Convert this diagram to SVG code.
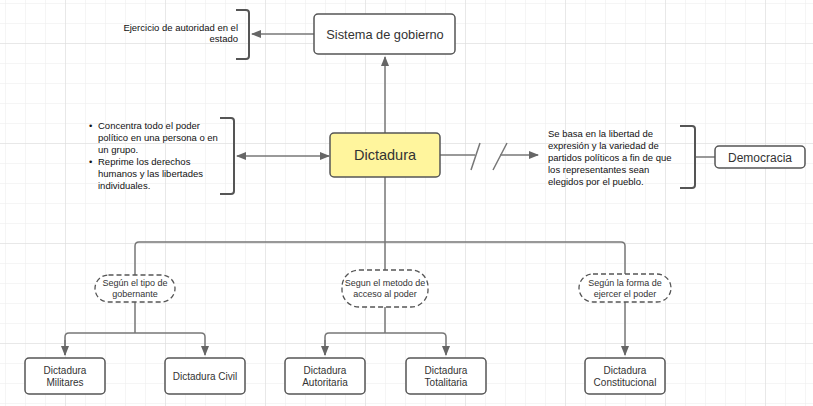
<svg xmlns="http://www.w3.org/2000/svg" width="813" height="406" viewBox="0 0 813 406">
<defs>
<pattern id="minor" x="5" y="3" width="20" height="20" patternUnits="userSpaceOnUse">
<path d="M0 0H20M0 0V20" fill="none" stroke="#ececec" stroke-width="1"/>
</pattern>
<pattern id="major" x="65" y="43" width="100" height="100" patternUnits="userSpaceOnUse">
<path d="M0 0H100M0 0V100" fill="none" stroke="#dcdcdc" stroke-width="1"/>
</pattern>
<marker id="ah" viewBox="0 0 10 10" refX="9" refY="5" markerWidth="10" markerHeight="10" markerUnits="userSpaceOnUse" orient="auto-start-reverse">
<path d="M0 1L10 5L0 9Z" fill="#666"/>
</marker>
</defs>
<style>
.box{fill:#fff;stroke:#555;stroke-width:1.5}
.oval{fill:#fff;stroke:#555;stroke-width:1.3;stroke-dasharray:5 3}
.ln{fill:none;stroke:#777;stroke-width:1.5}
.br{fill:none;stroke:#555;stroke-width:2}
text{font-family:"Liberation Sans",Arial,sans-serif;fill:#333}
.t10{font-size:10px}
.t9{font-size:9px}
.side{font-size:9.5px;fill:#111}
</style>
<rect width="813" height="406" fill="#fff"/>
<rect width="813" height="406" fill="url(#minor)"/>
<rect width="813" height="406" fill="url(#major)"/>

<g id="connectors">
<path class="ln" d="M314 34H252" marker-end="url(#ah)"/>
<path class="ln" d="M385 133V57" marker-end="url(#ah)"/>
<path class="ln" d="M329 156H237" marker-start="url(#ah)" marker-end="url(#ah)"/>
<path class="ln" d="M440 155H475"/>
<path class="ln" d="M471 170L480 143M493 170L507 143" stroke="#666"/>
<path class="ln" d="M500 155H538" marker-end="url(#ah)"/>
<path class="ln" d="M695 157H715"/>
<path class="ln" d="M385 177V242"/>
<path class="ln" d="M135 275V246Q135 242 139 242H621Q625 242 625 246V274"/>
<path class="ln" d="M385 242V270"/>
<path class="ln" d="M135 302V333M65 355V337Q65 333 69 333H201Q205 333 205 337V355" marker-end="url(#ah)"/>
<path class="ln" d="M65 340V355" marker-end="url(#ah)"/>
<path class="ln" d="M385 307V333M325 355V337Q325 333 329 333H442Q446 333 446 337V355" marker-end="url(#ah)"/>
<path class="ln" d="M325 340V355" marker-end="url(#ah)"/>
<path class="ln" d="M625 302V355" marker-end="url(#ah)"/>
</g>

<g id="sistema">
<rect class="box" x="314" y="14" width="141" height="40" rx="4"/>
<text x="385" y="38.5" font-size="12.8" text-anchor="middle">Sistema de gobierno</text>
</g>
<g id="ejercicio">
<path class="br" d="M236 10H246Q249 10 249 13V56Q249 59 246 59H236"/>
<text class="side" text-anchor="end"><tspan x="238" y="31">Ejercicio de autoridad en el</tspan><tspan x="238" y="42">estado</tspan></text>
</g>
<g id="dictadura">
<rect x="330" y="133" width="110" height="44" rx="4" fill="#fff59d" stroke="#555" stroke-width="1.5"/>
<text x="385" y="160" font-size="14.5" text-anchor="middle">Dictadura</text>
</g>
<g id="caracteristicas">
<path class="br" d="M220 118H231Q234 118 234 121V191Q234 194 231 194H220"/>
<text class="side">
<tspan x="89" y="129">•</tspan><tspan x="98" y="129">Concentra todo el poder</tspan>
<tspan x="98" y="141">político en una persona o en</tspan>
<tspan x="98" y="153">un grupo.</tspan>
<tspan x="89" y="165">•</tspan><tspan x="98" y="165">Reprime los derechos</tspan>
<tspan x="98" y="177">humanos y las  libertades</tspan>
<tspan x="98" y="189">individuales.</tspan>
</text>
</g>
<g id="democracia-desc">
<path class="br" d="M680 126H692Q695 126 695 129V185Q695 188 692 188H680"/>
<text class="side">
<tspan x="548" y="137">Se basa  en la libertad de</tspan>
<tspan x="548" y="149">expresión y la variedad de</tspan>
<tspan x="548" y="161">partidos políticos a fin de que</tspan>
<tspan x="548" y="173">los representantes sean</tspan>
<tspan x="548" y="185">elegidos por el pueblo.</tspan>
</text>
</g>
<g id="democracia">
<rect class="box" x="715" y="146" width="90" height="22" rx="4"/>
<text x="760" y="161.5" font-size="12" text-anchor="middle">Democracia</text>
</g>

<g id="tipo-gobernante">
<rect class="oval" x="95" y="275" width="80" height="27" rx="13.5"/>
<text class="t9" text-anchor="middle"><tspan x="135" y="286">Según el tipo de</tspan><tspan x="135" y="297">gobernante</tspan></text>
</g>
<g id="metodo-acceso">
<rect class="oval" x="342" y="270" width="86" height="37" rx="17"/>
<text class="t9" text-anchor="middle"><tspan x="385" y="286">Segun el metodo de</tspan><tspan x="385" y="297">acceso al poder</tspan></text>
</g>
<g id="forma-ejercer">
<rect class="oval" x="579" y="274" width="92" height="28" rx="14"/>
<text class="t9" text-anchor="middle"><tspan x="625" y="286">Según la forma de</tspan><tspan x="625" y="297">ejercer el poder</tspan></text>
</g>

<g id="militares">
<rect class="box" x="25" y="358" width="80" height="36" rx="4"/>
<text class="t10" text-anchor="middle"><tspan x="65" y="374">Dictadura</tspan><tspan x="65" y="386">Militares</tspan></text>
</g>
<g id="civil">
<rect class="box" x="165" y="358" width="80" height="36" rx="4"/>
<text class="t10" x="205" y="380" text-anchor="middle">Dictadura Civil</text>
</g>
<g id="autoritaria">
<rect class="box" x="285" y="358" width="80" height="36" rx="4"/>
<text class="t10" text-anchor="middle"><tspan x="325" y="374">Dictadura</tspan><tspan x="325" y="386">Autoritaria</tspan></text>
</g>
<g id="totalitaria">
<rect class="box" x="406" y="358" width="80" height="36" rx="4"/>
<text class="t10" text-anchor="middle"><tspan x="446" y="374">Dictadura</tspan><tspan x="446" y="386">Totalitaria</tspan></text>
</g>
<g id="constitucional">
<rect class="box" x="585" y="358" width="80" height="36" rx="4"/>
<text class="t10" text-anchor="middle"><tspan x="625" y="374">Dictadura</tspan><tspan x="625" y="386">Constitucional</tspan></text>
</g>
</svg>
